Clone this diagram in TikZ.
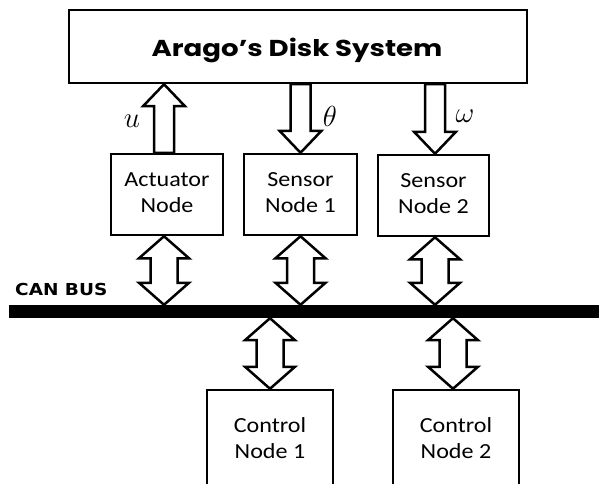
\documentclass[tikz,border=0pt]{standalone}
\usepackage{fontspec}
\setmainfont{Carlito}
\newfontfamily\titlefont{Poppins}
\newfontfamily\busfont{DejaVu Sans}
\usetikzlibrary{calc}

% two-line label inside a box, slightly widened
\newcommand\boxlabel[1]{\scalebox{1.12}[1]{\begin{tabular}{@{}c@{}}#1\end{tabular}}}
% large italic signal symbol
\newcommand\bigsym[1]{\scalebox{1.4}{$#1$}}

\tikzset{
  box/.style={draw=black, line width=2.5pt, fill=white, inner sep=0pt,
              font=\fontsize{21.5}{26}\selectfont},
  blk/.style={draw=black, line width=2.5pt, line join=miter, fill=white},
  sym/.style={font=\fontsize{20}{24}\selectfont, inner sep=0pt},
}

% fat single arrow pointing up: tail #2, tip #3, horizontal shift #1
\newcommand\blkup[3][0pt]{%
  \draw[blk] let \p1=($(#2)+(#1,0pt)$), \p2=(#3) in
    (\x1-10pt,\y1) -- (\x1-10pt,\y2-22pt) -- (\x1-21pt,\y2-22pt) -- (\x1,\y2)
    -- (\x1+21pt,\y2-22pt) -- (\x1+10pt,\y2-22pt) -- (\x1+10pt,\y1) -- cycle;}
% fat single arrow pointing down: tail #2, tip #3
\newcommand\blkdown[3][0pt]{%
  \draw[blk] let \p1=($(#2)+(#1,0pt)$), \p2=(#3) in
    (\x1-10pt,\y1) -- (\x1-10pt,\y2+22pt) -- (\x1-21pt,\y2+22pt) -- (\x1,\y2)
    -- (\x1+21pt,\y2+22pt) -- (\x1+10pt,\y2+22pt) -- (\x1+10pt,\y1) -- cycle;}
% fat double arrow: upper tip #2, lower tip #3
\newcommand\blkboth[3][0pt]{%
  \draw[blk] let \p1=($(#2)+(#1,0pt)$), \p2=(#3) in
    (\x1,\y1) -- (\x1+25pt,\y1-22pt) -- (\x1+13.5pt,\y1-22pt)
    -- (\x1+13.5pt,\y2+22pt) -- (\x1+25pt,\y2+22pt) -- (\x1,\y2)
    -- (\x1-25pt,\y2+22pt) -- (\x1-13.5pt,\y2+22pt)
    -- (\x1-13.5pt,\y1-22pt) -- (\x1-25pt,\y1-22pt) -- cycle;}

\begin{document}
\begin{tikzpicture}[x=1pt, y=-1pt]
  \useasboundingbox (0,0) rectangle (599,484);

  % plant
  \node[box, minimum width=458pt, minimum height=73pt] (sys) at (298,46.5) {};
  \node[anchor=base, font=\titlefont\bfseries\fontsize{23}{27}\selectfont, inner sep=0pt]
    (title) at (297,57) {\scalebox{1.2}[1]{Arago’s Disk System}};

  % field nodes
  \node[box, minimum width=112pt, minimum height=81pt] (act) at (167,194.5)
    {\boxlabel{Actuator\\Node}};
  \node[box, minimum width=113pt, minimum height=81pt] (s1) at (300.5,194.5)
    {\boxlabel{Sensor\\Node 1}};
  \node[box, minimum width=111pt, minimum height=81pt] (s2) at (433.5,195.5)
    {\boxlabel{Sensor\\Node 2}};

  % bus
  \node[fill=black, inner sep=0pt, minimum width=591pt, minimum height=13pt] (bus)
    at (304.5,311.5) {};
  \node[anchor=base west, inner sep=0pt,
        font=\busfont\bfseries\fontsize{16.5}{20}\selectfont] (buslabel) at (15,295)
    {\scalebox{1.12}[1]{CAN BUS}};

  % controllers
  \node[box, minimum width=126pt, minimum height=100pt] (c1) at (270,440)
    {\boxlabel{Control\\Node 1}};
  \node[box, minimum width=126pt, minimum height=100pt] (c2) at (456,440)
    {\boxlabel{Control\\Node 2}};

  % signal arrows to and from the plant
  \blkup[-3pt]{act.north}{sys.south}
  \blkdown{sys.south -| s1.north}{s1.north}
  \blkdown[1.5pt]{sys.south -| s2.north}{s2.north}

  \node[sym, anchor=base] (lu) at (132,128) {\bigsym{u}};
  \node[sym, anchor=base] (lth) at (330,127) {\bigsym{\theta}};
  \node[sym, anchor=base] (lom) at (465,123) {\bigsym{\omega}};

  % bus connections
  \blkboth[-3pt]{act.south}{bus.north}
  \blkboth{s1.south}{bus.north}
  \blkboth[1.5pt]{s2.south}{bus.north}
  \blkboth{bus.south -| c1.north}{c1.north}
  \blkboth[-3pt]{bus.south -| c2.north}{c2.north}
\end{tikzpicture}
\end{document}
